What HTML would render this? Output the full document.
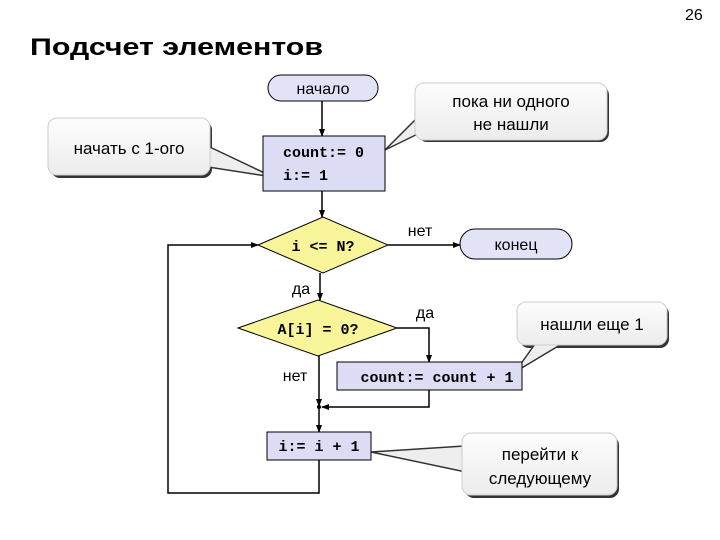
<!DOCTYPE html>
<html><head><meta charset="utf-8"><style>body{margin:0;background:#fff}svg{display:block}</style></head><body>
<svg width="720" height="540" viewBox="0 0 720 540" xmlns="http://www.w3.org/2000/svg" font-family="Liberation Sans, sans-serif">
<defs>
<marker id="a" markerWidth="8" markerHeight="8" refX="7" refY="4" orient="auto" markerUnits="userSpaceOnUse"><path d="M0,1 L8,4 L0,7 z" fill="#000"/></marker>
<linearGradient id="g" x1="0" y1="0" x2="0" y2="1"><stop offset="0" stop-color="#fdfdfd"/><stop offset="1" stop-color="#ececec"/></linearGradient>
</defs>
<text x="685" y="20" font-size="16">26</text>
<text x="30" y="55" font-size="24" font-weight="bold" textLength="293" lengthAdjust="spacingAndGlyphs">Подсчет элементов</text>

<!-- callout shadows -->
<g fill="#333">
<rect x="51" y="121" width="161" height="57" rx="9"/>
<rect x="418" y="86" width="191" height="56" rx="9"/>
<rect x="520" y="305" width="149" height="43" rx="9"/>
<rect x="465" y="436" width="154" height="62" rx="9"/>
</g>
<!-- tails -->
<g fill="#eeeeee" stroke="#333" stroke-width="1.5" stroke-linejoin="round">
<polygon points="195,140 273,177 195,165"/>
<polygon points="430,105 385,150 430,128"/>
<polygon points="545,330 515,372 585,330"/>
<polygon points="480,445 371,452 480,475"/>
</g>
<g fill="url(#g)" stroke="#ccc" stroke-width="1">
<rect x="48" y="118" width="162" height="57" rx="9"/>
<rect x="415" y="83" width="192" height="57" rx="9"/>
<rect x="517" y="302" width="150" height="43" rx="9"/>
<rect x="462" y="433" width="155" height="62" rx="9"/>
</g>
<g font-size="17" fill="#000" text-anchor="middle">
<text x="129" y="154">начать с 1-ого</text>
<text x="511" y="107">пока ни одного</text>
<text x="511" y="130">не нашли</text>
<text x="592" y="330">нашли еще 1</text>
<text x="540" y="460">перейти к</text>
<text x="540" y="484">следующему</text>
</g>

<!-- connectors -->
<g stroke="#000" stroke-width="1.5" fill="none">
<line x1="322" y1="101" x2="322" y2="136" marker-end="url(#a)"/>
<line x1="322" y1="191" x2="322" y2="217" marker-end="url(#a)"/>
<line x1="388" y1="245" x2="460" y2="245" marker-end="url(#a)"/>
<line x1="320" y1="273" x2="320" y2="300" marker-end="url(#a)"/>
<polyline points="397,328 429,328 429,362" marker-end="url(#a)"/>
<line x1="319" y1="356" x2="319" y2="406" marker-end="url(#a)"/>
<polyline points="429,390 429,407 322,407" marker-end="url(#a)"/>
<line x1="319" y1="407" x2="319" y2="432" marker-end="url(#a)"/>
<polyline points="319,460 319,493 168,493 168,245 258,245" marker-end="url(#a)"/>
</g>
<circle cx="319" cy="407" r="2" fill="#000"/>

<!-- shapes -->
<g stroke="#000" stroke-width="1">
<rect x="268" y="75" width="110" height="26" rx="13" fill="#e3e3f8"/>
<rect x="460" y="229" width="112" height="30" rx="15" fill="#e3e3f8"/>
<rect x="263" y="136" width="122" height="55" fill="#dcdcf5"/>
<polygon points="258,245 323,217 388,245 323,273" fill="#f7f49a"/>
<polygon points="238,328 318,300 397,328 318,356" fill="#f7f49a"/>
<rect x="337" y="362" width="185" height="28" fill="#dcdcf5"/>
<rect x="267" y="432" width="104" height="28" fill="#dcdcf5"/>
</g>
<g font-size="16" text-anchor="middle">
<text x="323" y="94">начало</text>
<text x="516" y="250">конец</text>
<text x="420" y="236">нет</text>
<text x="301" y="294">да</text>
<text x="425" y="318">да</text>
<text x="295" y="381">нет</text>
</g>
<g font-family="Liberation Mono, monospace" font-weight="bold" font-size="15">
<text x="283" y="157">count:= 0</text>
<text x="283" y="180">i:= 1</text>
<text x="323" y="251" text-anchor="middle">i &lt;= N?</text>
<text x="318" y="334" text-anchor="middle">A[i] = 0?</text>
<text x="437" y="382" text-anchor="middle">count:= count + 1</text>
<text x="319" y="451" text-anchor="middle">i:= i + 1</text>
</g>
</svg>
</body></html>
